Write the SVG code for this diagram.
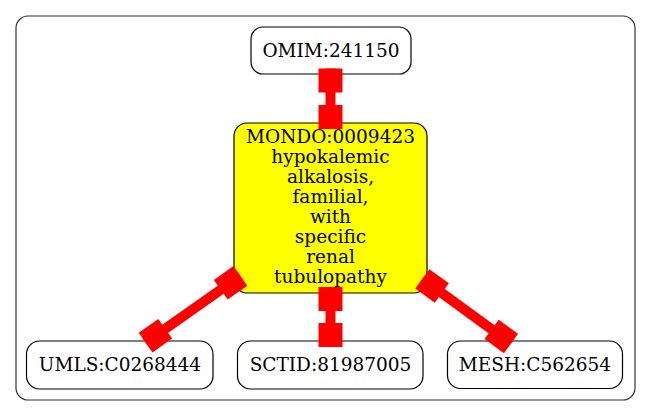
<svg xmlns="http://www.w3.org/2000/svg" width="651" height="416" viewBox="0 0 651 416">
<defs>
<style>
.node{fill:#fff;stroke:#000;stroke-width:1.2}
.main{fill:#ffff00;stroke:#000;stroke-width:1.2}
.lbl{font-family:"DejaVu Serif","Liberation Serif",serif;font-size:18.5px;fill:#000;text-anchor:middle}
.edge{stroke:#ff0000;stroke-width:10;fill:none;marker-start:url(#box);marker-end:url(#box)}
</style>
<marker id="box" markerUnits="userSpaceOnUse" viewBox="-24 -12 24 24" refX="0" refY="0" markerWidth="24" markerHeight="24" orient="auto-start-reverse" overflow="visible">
<path d="M-24,-12H0V12H-24Z" fill="#ff0000"/>
</marker>
</defs>
<rect x="16" y="16" width="619" height="384" rx="12" ry="12" fill="none" stroke="#333" stroke-width="1.2"/>
<g id="n_omim">
<rect class="node" x="251" y="27" width="160" height="47" rx="12"/>
<text class="lbl" x="331" y="56.5">OMIM:241150</text>
</g>
<g id="n_mondo">
<rect class="main" x="234" y="123" width="193" height="170" rx="13"/>
<text class="lbl" x="330.5" y="142.5">MONDO:0009423</text>
<text class="lbl" x="330.5" y="162.5">hypokalemic</text>
<text class="lbl" x="330.5" y="182.5">alkalosis,</text>
<text class="lbl" x="330.5" y="202.5">familial,</text>
<text class="lbl" x="330.5" y="222.5">with</text>
<text class="lbl" x="330.5" y="242.5">specific</text>
<text class="lbl" x="330.5" y="262.5">renal</text>
<text class="lbl" x="330.5" y="282.5">tubulopathy</text>
</g>
<g id="n_umls">
<rect class="node" x="26.5" y="341" width="186.5" height="48" rx="13"/>
<text class="lbl" x="120" y="370.5">UMLS:C0268444</text>
</g>
<g id="n_sctid">
<rect class="node" x="237.5" y="341" width="185.5" height="48" rx="13"/>
<text class="lbl" x="330.5" y="370.5">SCTID:81987005</text>
</g>
<g id="n_mesh">
<rect class="node" x="447.5" y="341" width="175" height="47.5" rx="13"/>
<text class="lbl" x="535" y="370.5">MESH:C562654</text>
</g>
<g id="edges">
<line class="edge" x1="330.5" y1="68.5" x2="330.5" y2="129"/>
<line class="edge" x1="330.5" y1="287" x2="330.5" y2="347"/>
<line class="edge" x1="240.4" y1="275.9" x2="145.6" y2="342.6"/>
<line class="edge" x1="422.4" y1="278.9" x2="511" y2="343.5"/>
</g>
</svg>
